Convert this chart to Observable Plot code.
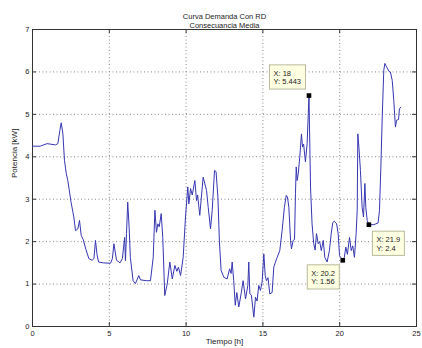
<!DOCTYPE html>
<html>
<head>
<meta charset="utf-8">
<script src="https://cdn.jsdelivr.net/npm/d3@7"></script>
<script src="https://cdn.jsdelivr.net/npm/@observablehq/plot@0.6"></script>
<style>
  html, body { margin: 0; padding: 0; background: #fff; }
  #chart { width: 422px; height: 348px; }
</style>
</head>
<body>
<div id="chart"></div>
<script>
const titleLines = ["Curva Demanda Con RD", "Consecuancia Media"];
const xLabel = "Tiempo [h]";
const yLabel = "Potencia [kW]";
const xTicks = [0, 5, 10, 15, 20, 25];
const yTicks = [0, 1, 2, 3, 4, 5, 6, 7];

const hours = [
  0, 0.5, 0.95, 1.5, 1.65, 1.78, 1.87, 1.98, 2.08, 2.2,
  2.3, 2.4, 2.5, 2.69, 2.8, 2.95, 3.06, 3.17, 3.3, 3.45,
  3.67, 3.88, 4.0, 4.1, 4.2, 4.3, 4.6, 5.08, 5.2, 5.3,
  5.47, 5.7, 5.85, 6.0, 6.05, 6.12, 6.2, 6.29, 6.37, 6.55,
  6.7, 6.92, 7.03, 7.4, 7.68, 7.86, 7.97, 8.07, 8.16, 8.25,
  8.38, 8.48, 8.61, 8.77, 8.94, 9.1, 9.27, 9.4, 9.5, 9.64,
  9.81, 9.96, 10.11, 10.18, 10.29, 10.4, 10.57, 10.68, 10.75, 10.89,
  11.11, 11.33, 11.44, 11.59, 11.7, 11.85, 11.95, 12.07, 12.17, 12.28,
  12.46, 12.67, 12.83, 12.93, 13.0, 13.1, 13.2, 13.3, 13.43, 13.6,
  13.71, 13.87, 14.02, 14.08, 14.15, 14.25, 14.41, 14.52, 14.62, 14.73,
  14.84, 14.95, 15.06, 15.15, 15.23, 15.33, 15.45, 15.6, 15.71, 15.82,
  15.93, 16.1, 16.25, 16.4, 16.52, 16.6, 16.69, 16.8, 16.86, 16.97,
  17.06, 17.12, 17.17, 17.23, 17.3, 17.4, 17.51, 17.58, 17.65, 17.77,
  17.88, 18.0, 18.1, 18.2, 18.31, 18.4, 18.49, 18.6, 18.7, 18.8,
  18.93, 19.03, 19.18, 19.33, 19.45, 19.55, 19.65, 19.8, 19.9, 19.99,
  20.2, 20.3, 20.4, 20.5, 20.64, 20.75, 20.85, 20.96, 21.07, 21.14,
  21.18, 21.25, 21.35, 21.46, 21.55, 21.64, 21.7, 21.79, 21.9, 22.22,
  22.5, 22.59, 22.68, 22.77, 22.87, 22.94, 23.05, 23.2, 23.3, 23.42,
  23.52, 23.63, 23.7, 23.83, 23.89, 23.98
];
const power = [
  4.25, 4.25, 4.31, 4.28, 4.31, 4.62, 4.8, 4.54, 3.92, 3.6,
  3.44, 3.2, 2.95, 2.58, 2.26, 2.3, 2.5, 2.15, 2.05, 1.85,
  1.6, 1.56, 1.6, 2.03, 1.7, 1.52, 1.5, 1.49, 1.6, 1.95,
  1.56, 1.5, 1.6, 2.1, 1.55, 2.19, 2.93, 2.34, 1.63, 1.08,
  1.01, 1.2, 1.1, 1.08, 1.08, 1.63, 2.74, 2.22, 2.42, 2.35,
  2.66, 2.1, 0.73, 1.0, 1.52, 1.12, 1.44, 1.3, 1.4, 1.2,
  1.63, 2.58, 3.29, 2.89, 3.25, 3.1, 3.44, 2.97, 3.1, 2.62,
  3.52, 3.21, 2.81, 2.3, 2.74, 3.68, 3.65, 3.05, 1.99, 1.32,
  1.16, 1.12, 1.36, 1.25, 1.52, 1.08, 0.5, 0.8, 0.46, 0.81,
  1.08, 0.65, 0.97, 1.52, 0.77, 0.74, 0.22, 0.69, 0.6, 0.97,
  0.85, 1.05, 1.71, 1.2, 1.08, 1.15, 0.77, 0.8, 1.4, 1.52,
  1.63, 1.79, 2.26, 2.81, 3.09, 3.05, 2.81, 2.03, 1.83, 2.03,
  2.05, 3.13, 3.76, 3.44, 3.6, 3.99, 4.54, 4.23, 4.3, 3.88,
  4.31, 5.443, 3.29, 2.42, 1.95, 1.8, 2.19, 1.95, 2.0, 1.79,
  2.03, 1.63, 1.52, 1.79, 2.2, 2.45, 2.48, 2.42, 2.19, 1.67,
  1.56, 1.63, 1.87, 1.7, 2.1, 1.79, 1.9, 1.63, 2.19, 2.74,
  4.54, 4.23, 3.68, 2.81, 2.58, 3.37, 2.81, 2.5, 2.4, 2.4,
  2.44, 2.74, 3.76, 4.94, 6.04, 6.2, 6.12, 6.02, 6.0, 5.8,
  5.33, 4.7, 4.86, 4.88, 5.13, 5.17
];

const tipX = [18, 20.2, 21.9];
const tipY = [5.443, 1.56, 2.4];
// where each data-tip box sits relative to its marker
const tipSide = ["upper-left", "lower-left", "lower-right"];

const curve = hours.map((h, i) => ({h, p: power[i]}));
const tips = tipX.map((x, i) => ({x, y: tipY[i], side: tipSide[i]}));

const FONT = "'Liberation Sans', Arial, sans-serif";
const tipFontSize = 7.5;
const measureCtx = document.createElement("canvas").getContext("2d");
measureCtx.font = `${tipFontSize}px ${FONT}`;

// custom render mark: yellow MATLAB-style data-tip boxes, positioned via the plot's scales
function dataTips(index, scales) {
  const g = d3.create("svg:g").attr("aria-label", "data-tips");
  const pad = 4, lineH = 8.6;
  for (const d of tips) {
    const px = scales.x(d.x), py = scales.y(d.y);
    const lines = [`X: ${d.x}`, `Y: ${d.y}`];
    const w = Math.ceil(Math.max(...lines.map(s => measureCtx.measureText(s).width))) + 2 * pad;
    const h = lines.length * lineH + 2 * pad - 1;
    let left, top;
    if (d.side === "upper-left") { left = px - 3 - w; top = py - 6 - h; }
    else if (d.side === "lower-left") { left = px - 3 - w; top = py + 5; }
    else { left = px + 4; top = py + 7; }
    g.append("rect")
      .attr("x", left).attr("y", top).attr("width", w).attr("height", h)
      .attr("fill", "#ffffe1").attr("stroke", "#b9b99c");
    lines.forEach((s, j) => {
      g.append("text")
        .attr("x", left + pad).attr("y", top + pad + (j + 0.8) * lineH)
        .attr("text-anchor", "start")
        .attr("font-size", tipFontSize).attr("font-family", FONT)
        .attr("fill", "#222").text(s);
    });
  }
  return g.node();
}

const chart = Plot.plot({
  width: 422,
  height: 348,
  marginLeft: 32,
  marginRight: 6,
  marginTop: 29,
  marginBottom: 22,
  style: {fontFamily: FONT, fontSize: "7.5px", color: "#222", background: "#fff"},
  x: {domain: [0, 25]},
  y: {domain: [0, 7]},
  marks: [
    Plot.gridX(xTicks.slice(1, -1), {stroke: "#888", strokeOpacity: 1, strokeDasharray: "1,2.5"}),
    Plot.gridY(yTicks.slice(1, -1), {stroke: "#888", strokeOpacity: 1, strokeDasharray: "1,2.5"}),
    Plot.ruleX(xTicks, {stroke: "#333", insetTop: 293}),
    Plot.ruleX(xTicks, {stroke: "#333", insetBottom: 293}),
    Plot.ruleY(yTicks, {stroke: "#333", insetRight: 380}),
    Plot.ruleY(yTicks, {stroke: "#333", insetLeft: 380}),
    Plot.frame({stroke: "#333"}),
    Plot.axisX(xTicks, {tickSize: 0, tickPadding: 4, label: null, fontSize: 7.5}),
    Plot.axisY(yTicks, {tickSize: 0, tickPadding: 3, label: null, fontSize: 7.5}),
    Plot.line(curve, {x: "h", y: "p", stroke: "#3636b2", strokeWidth: 1}),
    Plot.dot(tips, {x: "x", y: "y", symbol: "square", fill: "#000", r: 2.6}),
    dataTips,
    Plot.text([titleLines[0]], {frameAnchor: "top", dy: -16, fill: "#222", fontSize: 7.5}),
    Plot.text([titleLines[1]], {frameAnchor: "top", dy: -7, fill: "#222", fontSize: 7.5}),
    Plot.text([xLabel], {frameAnchor: "bottom", dy: 17, fill: "#222", fontSize: 8}),
    Plot.text([yLabel], {frameAnchor: "left", rotate: -90, dx: -18, fill: "#222", fontSize: 8})
  ]
});
document.getElementById("chart").appendChild(chart);
</script>
</body>
</html>
